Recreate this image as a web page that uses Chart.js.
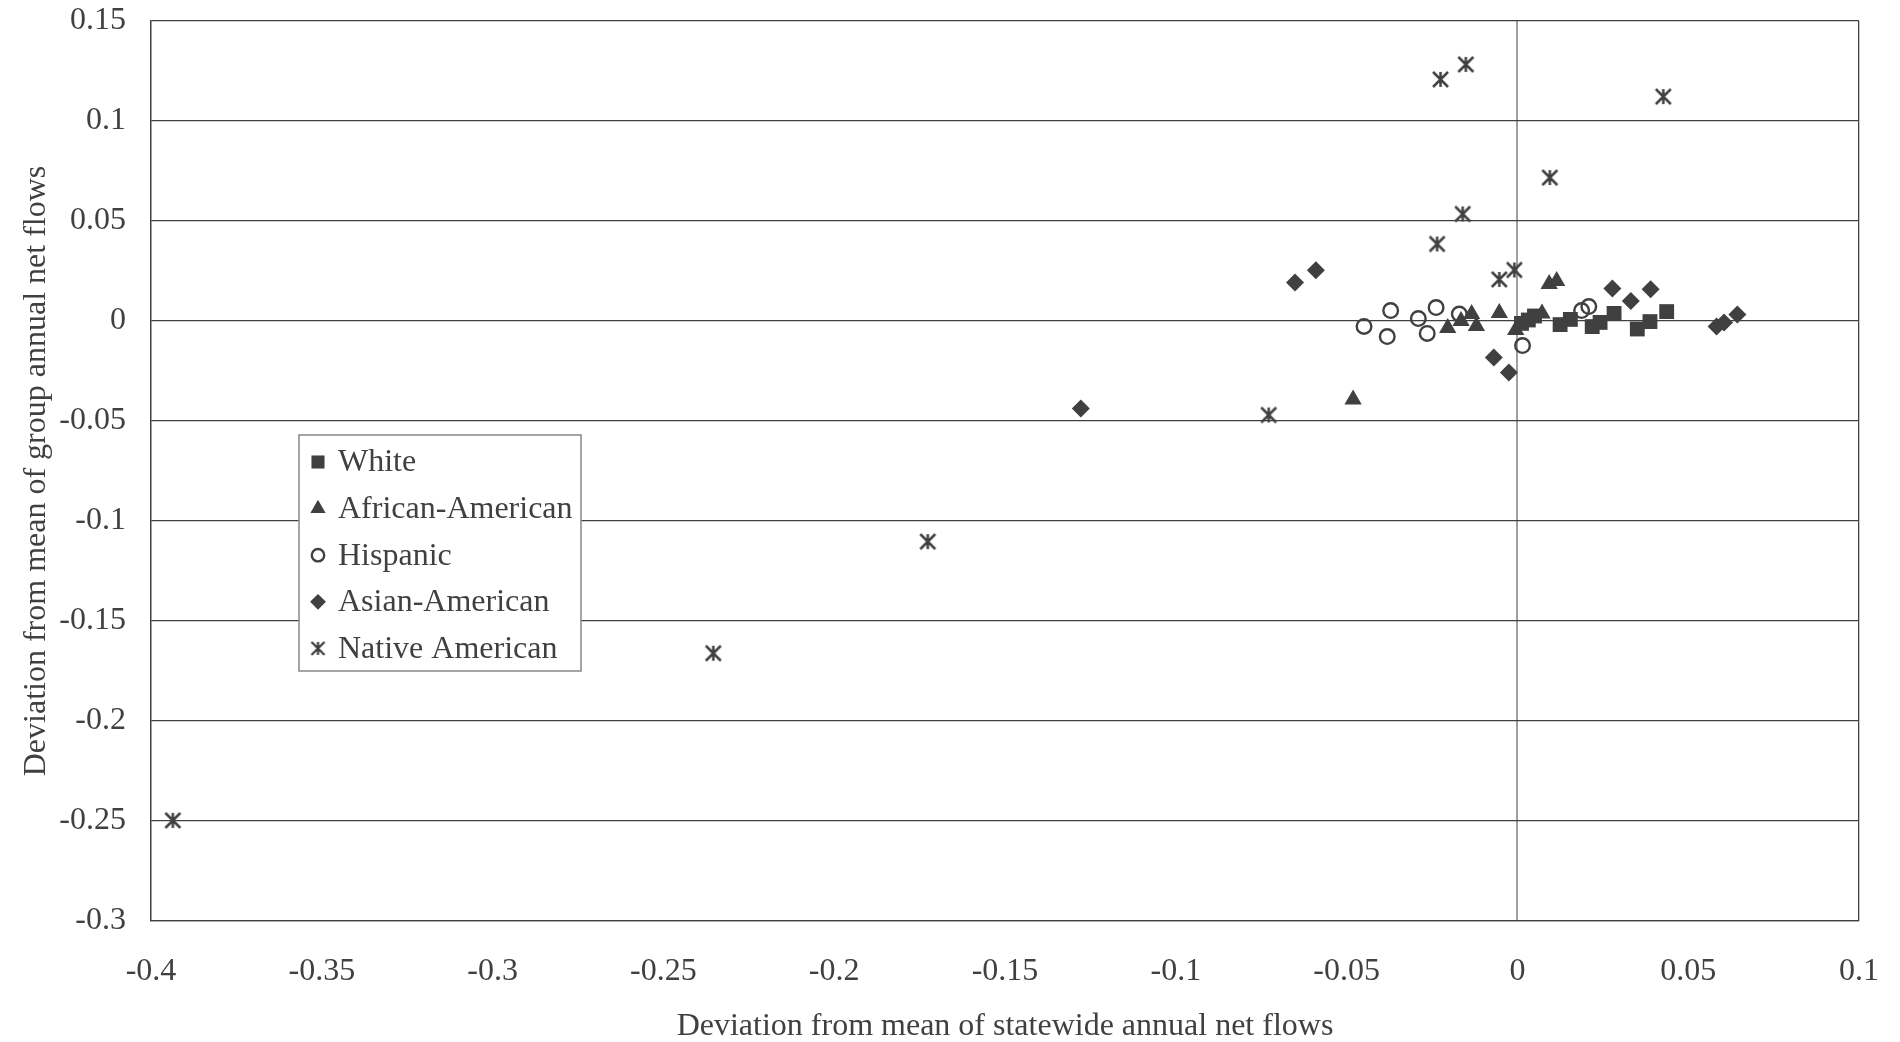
<!DOCTYPE html>
<html lang="en">
<head>
  <meta charset="UTF-8" />
  <title>Deviation from mean of annual net flows</title>
  <script src="https://cdn.jsdelivr.net/npm/chart.js"></script>
  <style>
    body {
      margin: 0;
      background: #fff;
    }
    canvas {
      display: block;
    }
  </style>
</head>
<body>
  <canvas id="chart" width="1900" height="1042"></canvas>

  <script>
    // values
    const whiteX = [0.0012, 0.0032, 0.0050, 0.0125, 0.0155, 0.0219, 0.0242, 0.0283, 0.0351, 0.0388, 0.0437];
    const whiteY = [-0.0012, 0.0005, 0.0025, -0.0018, 0.0008, -0.0028, -0.0007, 0.0038, -0.0040, -0.0003, 0.0047];

    const africanX = [-0.0481, -0.0204, -0.0165, -0.0134, -0.0120, -0.0053, -0.0005, 0.0072, 0.0093, 0.0115];
    const africanY = [-0.0392, -0.0035, 0.0000, 0.0035, -0.0025, 0.0040, -0.0045, 0.0038, 0.0185, 0.0200];

    const hispanicX = [-0.0449, -0.0381, -0.0371, -0.0290, -0.0264, -0.0238, -0.0170, 0.0015, 0.0188, 0.0209];
    const hispanicY = [-0.0027, -0.0078, 0.0052, 0.0012, -0.0062, 0.0067, 0.0035, -0.0123, 0.0052, 0.0072];

    const asianX = [-0.1278, -0.0651, -0.0590, -0.0069, -0.0025, 0.0278, 0.0332, 0.0390, 0.0583, 0.0605, 0.0644];
    const asianY = [-0.0437, 0.0193, 0.0254, -0.0182, -0.0258, 0.0163, 0.0100, 0.0159, -0.0028, -0.0008, 0.0033];

    const nativeX = [-0.3936, -0.2354, -0.1726, -0.0728, -0.0235, -0.0225, -0.0160, -0.0151, -0.0053, -0.0009, 0.0095, 0.0427];
    const nativeY = [-0.2497, -0.1661, -0.1103, -0.0470, 0.0385, 0.1208, 0.0535, 0.1283, 0.0208, 0.0255, 0.0717, 0.1122];

    const seriesNames = ["White", "African-American", "Hispanic", "Asian-American", "Native American"];

    const xTicks = [-0.4, -0.35, -0.3, -0.25, -0.2, -0.15, -0.1, -0.05, 0, 0.05, 0.1];
    const xTickLabels = ["-0.4", "-0.35", "-0.3", "-0.25", "-0.2", "-0.15", "-0.1", "-0.05", "0", "0.05", "0.1"];
    const yTicks = [-0.3, -0.25, -0.2, -0.15, -0.1, -0.05, 0, 0.05, 0.1, 0.15];
    const yTickLabels = ["-0.3", "-0.25", "-0.2", "-0.15", "-0.1", "-0.05", "0", "0.05", "0.1", "0.15"];

    const ink = "#404040";
    const font = "'Liberation Serif', 'Times New Roman', serif";
    const fsize = 32;

    function pts(xs, ys) {
      return xs.map((x, i) => ({ x: x, y: ys[i] }));
    }

    // six-armed asterisk marker for Native American
    function makeStar(size, lw) {
      const c = document.createElement("canvas");
      c.width = size + 4;
      c.height = size + 4;
      const g = c.getContext("2d");
      const a = 2, b = size + 2, m = c.width / 2;
      g.strokeStyle = ink;
      g.lineWidth = lw;
      g.beginPath();
      g.moveTo(m, a); g.lineTo(m, b);
      g.moveTo(a, a); g.lineTo(b, b);
      g.moveTo(b, a); g.lineTo(a, b);
      g.stroke();
      return c;
    }
    const star = makeStar(15, 2.5);
    const starSmall = makeStar(13, 2.3);

    const datasets = [
      { label: seriesNames[0], data: pts(whiteX, whiteY), pointStyle: "rect", pointRadius: 10.5, backgroundColor: ink, borderColor: ink, borderWidth: 0 },
      { label: seriesNames[1], data: pts(africanX, africanY), pointStyle: "triangle", pointRadius: 10, backgroundColor: ink, borderColor: ink, borderWidth: 0 },
      { label: seriesNames[2], data: pts(hispanicX, hispanicY), pointStyle: "circle", pointRadius: 7.3, backgroundColor: "rgba(0,0,0,0)", borderColor: ink, borderWidth: 2.4 },
      { label: seriesNames[3], data: pts(asianX, asianY), pointStyle: "rectRot", pointRadius: 9, backgroundColor: ink, borderColor: ink, borderWidth: 0 },
      { label: seriesNames[4], data: pts(nativeX, nativeY), pointStyle: star, pointRadius: 10, backgroundColor: ink, borderColor: ink, borderWidth: 0 }
    ];

    // legend box drawn inside the plot, like the original
    const boxLegend = {
      id: "boxLegend",
      afterDraw(chart) {
        const ctx = chart.ctx;
        const x0 = 299, y0 = 435, w = 282, h = 236;
        ctx.save();
        ctx.fillStyle = "#fff";
        ctx.fillRect(x0, y0, w, h);
        ctx.strokeStyle = "#888";
        ctx.lineWidth = 1.5;
        ctx.strokeRect(x0, y0, w, h);
        ctx.font = fsize + "px " + font;
        ctx.textBaseline = "middle";
        chart.data.datasets.forEach((ds, i) => {
          const cy = y0 + 27 + i * 46.6;
          const isImg = typeof ds.pointStyle !== "string";
          ctx.fillStyle = ds.backgroundColor;
          ctx.strokeStyle = ds.borderColor;
          ctx.lineWidth = ds.borderWidth;
          Chart.helpers.drawPoint(ctx, {
            pointStyle: isImg ? starSmall : ds.pointStyle,
            radius: ds.pointStyle === "circle" ? 6.2 : ds.pointRadius * 0.88,
            borderWidth: ds.borderWidth,
            rotation: 0
          }, x0 + 19, cy);
          ctx.fillStyle = ink;
          ctx.fillText(ds.label, x0 + 39, cy + 1);
        });
        ctx.restore();
      }
    };

    function noPad(s) {
      s.paddingTop = 0;
      s.paddingBottom = 0;
      s.paddingLeft = 0;
      s.paddingRight = 0;
    }

    const ctx = document.getElementById("chart").getContext("2d");
    new Chart(ctx, {
      type: "scatter",
      data: { datasets: datasets },
      options: {
        responsive: false,
        animation: false,
        devicePixelRatio: 1,
        layout: { padding: { top: 21, right: 41, left: 0, bottom: 0 } },
        plugins: {
          legend: { display: false },
          tooltip: { enabled: false }
        },
        scales: {
          x: {
            type: "linear",
            min: -0.4,
            max: 0.1,
            afterBuildTicks: s => { s.ticks = xTicks.map(v => ({ value: v })); },
            afterFit: s => { s.height = 121; noPad(s); },
            ticks: {
              color: ink,
              font: { family: font, size: fsize },
              padding: 31,
              maxRotation: 0,
              autoSkip: false,
              callback: (v, i) => xTickLabels[i]
            },
            grid: {
              drawTicks: false,
              color: c => {
                const v = c.tick ? c.tick.value : null;
                if (v === 0) return "#a0a0a0";
                if (v === -0.4 || v === 0.1) return ink;
                return "rgba(0,0,0,0)";
              },
              lineWidth: c => (c.tick && c.tick.value === 0 ? 2 : 1.3)
            },
            border: { display: true, color: ink, width: 1.3 },
            title: {
              display: true,
              text: "Deviation from mean of statewide annual net flows",
              color: ink,
              font: { family: font, size: fsize },
              padding: { top: 0, bottom: -4 }
            }
          },
          y: {
            type: "linear",
            min: -0.3,
            max: 0.15,
            afterBuildTicks: s => { s.ticks = yTicks.map(v => ({ value: v })); },
            afterFit: s => { s.width = 151; noPad(s); },
            ticks: {
              color: ink,
              font: { family: font, size: fsize },
              padding: 25,
              autoSkip: false,
              callback: (v, i) => yTickLabels[i]
            },
            grid: {
              drawTicks: false,
              color: ink,
              lineWidth: 1.3
            },
            border: { display: true, color: ink, width: 1.3 },
            title: {
              display: true,
              text: "Deviation from mean of group annual net flows",
              color: ink,
              font: { family: font, size: fsize },
              padding: { top: 17, bottom: 0 }
            }
          }
        }
      },
      plugins: [boxLegend]
    });
  </script>
</body>
</html>
